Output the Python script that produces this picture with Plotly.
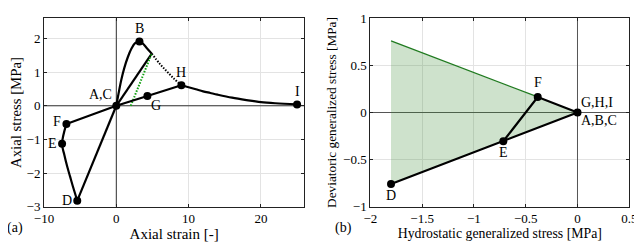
import plotly.graph_objects as go

# ---- Panel (a) data ----
load_AB_x = [0, 0.3, 0.7, 1.1, 1.6, 2.1, 2.6, 3.2]
load_AB_y = [0, 0.35, 0.78, 1.12, 1.45, 1.7, 1.86, 1.91]
soft_B_x = [3.2, 3.6, 4.2, 4.9]
soft_B_y = [1.91, 1.86, 1.72, 1.55]
dot_x = [4.9, 6.0, 7.0, 8.0, 9.0]
dot_y = [1.55, 1.25, 1.02, 0.8, 0.61]
unload_x = [0, 4.9]
unload_y = [0, 1.55]
green_x = [2.0, 4.9]
green_y = [0.0, 1.55]
FGH_x = [-6.9, 0, 4.3, 9.0]
FGH_y = [-0.54, 0, 0.29, 0.61]
HI_x = [9.0, 10, 11, 12, 13, 14, 16, 18, 20, 22, 25]
HI_y = [0.61, 0.55, 0.49, 0.43, 0.38, 0.33, 0.24, 0.17, 0.11, 0.075, 0.04]
FED_x = [-6.9, -7.5, -7.2, -6.8, -6.4, -6.0, -5.4]
FED_y = [-0.54, -1.13, -1.45, -1.8, -2.1, -2.4, -2.82]
D0_x = [-5.4, 0]
D0_y = [-2.82, 0]
pts_a_x = [0, 3.2, 9.0, 25, 4.3, -6.9, -7.5, -5.4]
pts_a_y = [0, 1.91, 0.61, 0.04, 0.29, -0.54, -1.13, -2.82]
pts_a_lbl = ["A,C", "B", "H", "I", "G", "F", "E", "D"]

# ---- Panel (b) data ----
tri_x = [-1.8, 0, -1.8, -1.8]
tri_y = [0.76, 0, -0.76, 0.76]
env_x = [-1.8, -0.384]
env_y = [0.76, 0.165]
path_b_x = [-1.8, -0.716, 0, -0.384, -0.716]
path_b_y = [-0.76, -0.305, 0, 0.165, -0.305]
pts_b_x = [0, -0.384, -0.716, -1.8]
pts_b_y = [0, 0.165, -0.305, -0.76]

FONT = "Liberation Serif"
W, H, OFF = 634, 236, 8  # page body margin offsets the figure by 8px
fig = go.Figure()
blk = dict(color="black", width=2.2)

def addl(x, y, line, ax="a"):
    xa, ya = ("x", "y") if ax == "a" else ("x2", "y2")
    fig.add_trace(go.Scatter(x=x, y=y, mode="lines", line=line, xaxis=xa, yaxis=ya,
                             showlegend=False, hoverinfo="skip"))

# zero lines
addl([-10, 26], [0, 0], dict(color="#333", width=1))
addl([0, 0], [-3, 2.6], dict(color="#333", width=1))
addl([-2, 0.5], [0, 0], dict(color="#555", width=1), "b")
addl([0, 0], [-1, 1], dict(color="#555", width=1), "b")

addl(load_AB_x, load_AB_y, dict(color="black", width=2.2, shape="spline"))
addl(soft_B_x, soft_B_y, dict(color="black", width=2.2, shape="spline"))
addl(dot_x, dot_y, dict(color="black", width=2, dash="1.5px,1.5px", shape="spline"))
addl(unload_x, unload_y, blk)
addl(green_x, green_y, dict(color="#12a012", width=2, dash="1.5px,1.5px"))
addl(FGH_x, FGH_y, blk)
addl(HI_x, HI_y, dict(color="black", width=2.2, shape="spline"))
addl(FED_x, FED_y, dict(color="black", width=2.2, shape="spline"))
addl(D0_x, D0_y, blk)
fig.add_trace(go.Scatter(x=pts_a_x, y=pts_a_y, mode="markers",
                         marker=dict(color="black", size=8), showlegend=False))

# panel b
fig.add_trace(go.Scatter(x=tri_x, y=tri_y, mode="none", fill="toself",
                         fillcolor="rgba(60,140,50,0.25)", xaxis="x2", yaxis="y2",
                         showlegend=False, hoverinfo="skip"))
addl(env_x, env_y, dict(color="#1f7a1f", width=1.3), "b")
addl(path_b_x, path_b_y, blk, "b")
fig.add_trace(go.Scatter(x=pts_b_x, y=pts_b_y, mode="markers", xaxis="x2", yaxis="y2",
                         marker=dict(color="black", size=8), showlegend=False))

LF = dict(family=FONT, size=14, color="black")
ann = []
def lab(x, y, t, xs, ys, ax="a", xanc="center"):
    xr, yr = ("x", "y") if ax == "a" else ("x2", "y2")
    ann.append(dict(x=x, y=y, xref=xr, yref=yr, text=t, showarrow=False, xshift=xs, yshift=ys,
                    xanchor=xanc, font=LF))

offs_a = {"A,C": (-2, 11, "right"), "B": (0, 13, "center"), "H": (0, 13, "center"),
          "I": (0, 13, "center"), "G": (9, -9, "center"), "F": (-3, 2, "right"),
          "E": (-3, 0, "right"), "D": (-3, 0, "right")}
for x, y, t in zip(pts_a_x, pts_a_y, pts_a_lbl):
    xs, ys, a = offs_a[t]
    lab(x, y, t, xs, ys, "a", a)
lab(0, 0, "G,H,I", 1, 10, "b", "left")
lab(0, 0, "A,B,C", 1, -8, "b", "left")
lab(-0.384, 0.165, "F", 0, 14, "b")
lab(-0.716, -0.305, "E", 0, -11, "b")
lab(-1.8, -0.76, "D", 0, -11, "b")

def px(x):
    return (x - OFF) / W

def py(y):
    return 1 - (y - OFF) / H

ann.append(dict(x=px(15), y=py(228), xref="paper", yref="paper", text="(a)", showarrow=False,
                xanchor="center", yanchor="middle", font=LF))
ann.append(dict(x=px(343), y=py(228), xref="paper", yref="paper", text="(b)", showarrow=False,
                xanchor="center", yanchor="middle", font=LF))

axcommon = dict(showline=True, linecolor="#222", linewidth=1, mirror="ticks", ticks="inside",
                ticklen=3, tickcolor="#222", showgrid=True, gridcolor="#e3e3e3", zeroline=False,
                automargin=False, tickfont=dict(family=FONT, size=13, color="black"))

def ttl(t, size=14.5, s=3):
    return dict(text=t, font=dict(family=FONT, size=size, color="black"), standoff=s)

fig.update_layout(
    width=W, height=H, margin=dict(l=0, r=0, t=0, b=0, autoexpand=False),
    paper_bgcolor="white", plot_bgcolor="white",
    xaxis=dict(axcommon, domain=[px(44), px(304.3)], range=[-10, 26],
               tickvals=[-10, 0, 10, 20], title=ttl("Axial strain [-]", 15), anchor="y"),
    yaxis=dict(axcommon, domain=[py(206.7), py(18.3)], range=[-3, 2.6],
               tickvals=[-3, -2, -1, 0, 1, 2], title=ttl("Axial stress [MPa]", 14.8), anchor="x"),
    xaxis2=dict(axcommon, domain=[px(370.3), px(629.3)], range=[-2, 0.5],
                tickvals=[-2, -1.5, -1, -0.5, 0, 0.5],
                title=ttl("Hydrostatic generalized stress [MPa]", 13.8), anchor="y2"),
    yaxis2=dict(axcommon, domain=[py(206.7), py(18.3)], range=[-1, 1],
                tickvals=[-1, -0.5, 0, 0.5, 1],
                title=ttl("Deviatoric generalized stress [MPa]", 13.3), anchor="x2"),
    annotations=ann,
)
fig.write_html("out.html")
